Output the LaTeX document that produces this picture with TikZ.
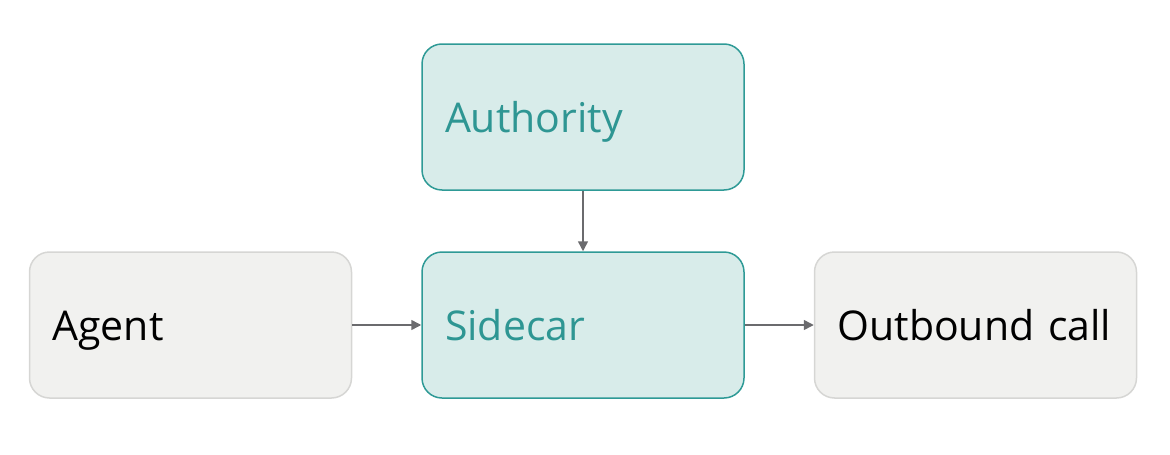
\documentclass[tikz,border=0pt]{standalone}
\usepackage{fontspec}
\setmainfont{Open Sans}
\usetikzlibrary{arrows.meta}
\definecolor{tealline}{HTML}{2E9A96}
\definecolor{tealfill}{HTML}{D8ECEA}
\definecolor{tealtext}{HTML}{2E9693}
\definecolor{grayfill}{HTML}{F1F1EF}
\definecolor{grayline}{HTML}{D6D6D4}
\definecolor{arrowcol}{HTML}{6B6B6E}
\tikzset{
  box/.style={rounded corners=20pt, line width=1.5pt, minimum width=322pt, minimum height=146pt,
    text width=276pt, align=left, inner sep=0pt, text height=31pt, text depth=0pt,
    font=\fontsize{41}{44}\selectfont},
  tealbox/.style={box, draw=tealline, fill=tealfill, text=tealtext},
  graybox/.style={box, draw=grayline, fill=grayfill, text=black},
  conn/.style={draw=arrowcol, line width=1.5pt, -{Triangle[length=10pt,width=10pt]}}
}
\begin{document}
\begin{tikzpicture}[x=1pt,y=-1pt]
\useasboundingbox (0,0) rectangle (1170,455);
\node[tealbox] (auth) at (583,117) {Authority};
\node[graybox] (agent) at (190.5,325) {Agent};
\node[tealbox] (side) at (583,325) {Sidecar};
\node[graybox] (out) at (975.5,325) {Outbound call};
\draw[conn] (auth) -- (side);
\draw[conn] (agent) -- (side);
\draw[conn] (side) -- (out);
\end{tikzpicture}
\end{document}
